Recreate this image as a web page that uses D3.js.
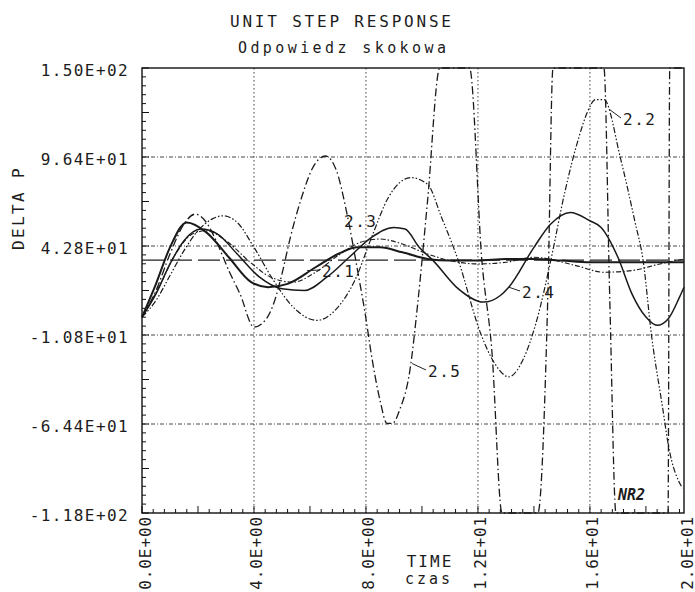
<!DOCTYPE html>
<html>
<head>
<meta charset="utf-8">
<script src="https://cdn.jsdelivr.net/npm/d3@7"></script>
<style>
body { margin: 0; background: #fff; }
text { font-family: "DejaVu Sans Mono", monospace; fill: #1c1c1c; }
</style>
</head>
<body>
<svg width="695" height="592"></svg>
<script>
// unit step response, values as [time, delta P]
// (parts that ran off the sheet are kept at the frame value, like the plotter drew them)
var curve21 = [[0,0],[0.5,20],[1.0,42],[1.6,57],[2.3,51],[3.1,36],[3.9,21],[4.5,18],[5.2,20],[6.2,30],
  [7.0,38],[7.7,42],[8.5,42],[9.3,39],[10.2,35],[11.0,34],[12,34],[13,35],[14,35],[15,34],[16,33],[17,33],[18,33],[19.36,33]];
var curve22 = [[0,0],[0.5,10],[1.0,25],[1.5,40],[2.0,52],[2.5,59],[2.9,61],[3.4,57],[4.0,42],[4.7,22],[5.4,6],
  [6.25,-2],[7.0,6],[7.6,22],[8.2,48],[8.8,72],[9.6,84],[10.2,80],[10.7,60],[11.3,34],[12.1,-10],[12.6,-28],
  [13.1,-36],[13.6,-26],[14.1,-2],[14.6,34],[15.1,75],[15.6,108],[15.9,123],[16.2,131],[16.5,131],[17.1,95],
  [17.6,58],[17.9,34],[18.2,-11],[18.6,-55],[18.8,-77],[19.3,-103]];
var curve23 = [[0,0],[0.6,18],[1.2,38],[1.8,50],[2.3,52],[3.0,46],[3.8,34],[4.6,24],[5.4,21],[6.2,27],[7.0,37],
  [7.8,45],[8.5,47],[9.3,44],[10.2,38],[11.0,34],[12.0,32],[13.0,33],[14.0,36],[15.5,31],[16.5,27],[17.5,28],[18.5,32],[19.36,35]];
var curve24 = [[0,0],[0.5,14],[1.0,32],[1.5,46],[2.1,53],[2.7,50],[3.4,38],[4.2,24],[5.0,17],[5.8,16],[6.6,24],
  [7.4,36],[8.2,48],[9.0,54],[9.4,53],[9.9,42],[10.4,34],[11.3,17],[12.2,9],[12.8,13],[13.1,18],[14.0,42],
  [14.6,56],[15.3,63],[16.0,58],[16.4,54],[17.0,36],[17.5,14],[18.0,0],[18.4,-5],[18.8,-1],[19.2,12],[19.36,18]];
var curve25 = [[0,0],[0.5,16],[1.0,38],[1.5,56],[1.9,62],[2.3,57],[2.7,44],[3.1,28],[3.5,14],[4.0,-6],[4.4,-2],
  [4.7,8],[5.0,26],[5.3,48],[5.7,72],[6.07,89],[6.55,97],[6.95,88],[7.3,64],[7.7,28],[8.0,-1],[8.15,-18],[8.5,-50],
  [8.75,-64],[8.95,-64],[9.2,-56],[9.57,-32],[9.86,10],[10.2,70],[10.64,150],[11.7,150],[12.14,34],[12.5,-21],
  [12.86,-118],[14.14,-118],[14.5,15],[14.68,150],[16.5,150],[16.71,10],[16.93,-118],[18.79,-118],[18.85,150],[19.36,150]];
var steadyState = 34.3;

var curveNames = ["2.1", "2.2", "2.3", "2.4", "2.5"];
var yTicks = [150, 96.4, 42.8, -10.8, -64.4, -118];
var yTickLabels = ["1.50E+02", "9.64E+01", "4.28E+01", "-1.08E+01", "-6.44E+01", "-1.18E+02"];
var xTicks = [0, 4, 8, 12, 16];
var xTickLabels = ["0.0E+00", "4.0E+00", "8.0E+00", "1.2E+01", "1.6E+01", "2.0E+01"];
var tEnd = 19.36;   // the frame stops a bit short of 20 on the sheet

var svg = d3.select("svg");
svg.append("rect").attr("width", 695).attr("height", 592).attr("fill", "#fff");

var x = d3.scaleLinear().domain([0, tEnd]).range([142, 684]);
var y = d3.scaleLinear().domain([-118, 150]).range([513, 68]).clamp(true);

// titles
svg.append("text").attr("x", 230).attr("y", 27).attr("font-size", 16)
  .attr("letter-spacing", 2.8).text("UNIT STEP RESPONSE");
svg.append("text").attr("x", 238).attr("y", 53).attr("font-size", 15)
  .attr("letter-spacing", 3.4).text("Odpowiedz skokowa");

// grid
var grid = svg.append("g").attr("stroke", "#333").attr("stroke-width", 0.9)
  .attr("stroke-dasharray", "4,2,1,2").attr("fill", "none");
grid.selectAll("line.h").data(yTicks.slice(1, -1)).enter().append("line")
  .attr("x1", x(0)).attr("x2", x(tEnd))
  .attr("y1", function(d) { return y(d); }).attr("y2", function(d) { return y(d); });
grid.selectAll("line.v").data(xTicks.slice(1)).enter().append("line")
  .attr("x1", function(d) { return x(d); }).attr("x2", function(d) { return x(d); })
  .attr("y1", y(150)).attr("y2", y(-118))
  .attr("stroke-dasharray", "1.5,2.5");

// frame and inner ticks
svg.append("rect").attr("x", x(0)).attr("y", y(150))
  .attr("width", x(tEnd) - x(0)).attr("height", y(-118) - y(150))
  .attr("fill", "none").attr("stroke", "#111").attr("stroke-width", 1.4);

var yMinor = d3.range(0, 51).map(function(i) { return -118 + i * 5.36; });
svg.append("g").selectAll("line").data(yMinor).enter().append("line")
  .attr("x1", x(0)).attr("x2", function(d, i) { return x(0) + (i % 5 == 0 ? 7 : 4); })
  .attr("y1", function(d) { return y(d); }).attr("y2", function(d) { return y(d); })
  .attr("stroke", "#111").attr("stroke-width", 1);
var xMinor = d3.range(0, 49).map(function(i) { return i * 0.4; });
svg.append("g").selectAll("line").data(xMinor).enter().append("line")
  .attr("x1", function(d) { return x(d); }).attr("x2", function(d) { return x(d); })
  .attr("y1", y(-118)).attr("y2", function(d, i) { return y(-118) - (i % 5 == 0 ? 7 : 4); })
  .attr("stroke", "#111").attr("stroke-width", 1);

// tick labels
svg.append("g").selectAll("text").data(yTicks).enter().append("text")
  .attr("x", 129).attr("y", function(d) { return y(d) + 3; })
  .attr("text-anchor", "end").attr("dominant-baseline", "middle")
  .attr("font-size", 16).attr("letter-spacing", 1.4)
  .text(function(d, i) { return yTickLabels[i]; });

var xLabelPos = xTicks.concat([tEnd]);
svg.append("g").selectAll("text").data(xLabelPos).enter().append("text")
  .attr("transform", function(d) { return "translate(" + (x(d) + 4) + ",516) rotate(-90)"; })
  .attr("text-anchor", "end").attr("dominant-baseline", "middle")
  .attr("font-size", 16).attr("letter-spacing", 0.9)
  .text(function(d, i) { return xTickLabels[i]; });

// axis titles
svg.append("text").attr("transform", "translate(19,208) rotate(-90)")
  .attr("text-anchor", "middle").attr("dominant-baseline", "middle")
  .attr("font-size", 16).attr("letter-spacing", 2.4).text("DELTA P");
svg.append("text").attr("x", 430).attr("y", 567).attr("text-anchor", "middle")
  .attr("font-size", 16).attr("letter-spacing", 2).text("TIME");
svg.append("text").attr("x", 429).attr("y", 584).attr("text-anchor", "middle")
  .attr("font-size", 15).attr("letter-spacing", 3).text("czas");

// curves
var line = d3.line()
  .x(function(d) { return x(d[0]); })
  .y(function(d) { return y(d[1]); })
  .curve(d3.curveMonotoneX);

var series = [
  { data: curve21, dash: null, w: 2.0 },
  { data: curve22, dash: "6,2,1.5,2,1.5,2", w: 1.2 },
  { data: curve23, dash: "5,2,1.5,2", w: 1.1 },
  { data: curve24, dash: null, w: 1.5 },
  { data: curve25, dash: "8,3,1.5,3", w: 1.3 }
];

svg.append("line")
  .attr("x1", x(0)).attr("x2", x(tEnd))
  .attr("y1", y(steadyState)).attr("y2", y(steadyState))
  .attr("stroke", "#222").attr("stroke-width", 1.3).attr("stroke-dasharray", "22,6");

svg.append("g").selectAll("path").data(series).enter().append("path")
  .attr("d", function(d) { return line(d.data); })
  .attr("fill", "none").attr("stroke", "#1a1a1a")
  .attr("stroke-width", function(d) { return d.w; })
  .attr("stroke-dasharray", function(d) { return d.dash; })
  .attr("stroke-linejoin", "round");

// curve labels with their little leaders
var labelSpots = [
  { name: curveNames[0], t: 5.9, v: 28, lx: 322, ly: 277 },
  { name: curveNames[1], t: 16.7, v: 125, lx: 623, ly: 125 },
  { name: curveNames[2], t: 7.4, v: 41, lx: 344, ly: 227 },
  { name: curveNames[3], t: 13.1, v: 18, lx: 522, ly: 298 },
  { name: curveNames[4], t: 9.65, v: -28, lx: 428, ly: 377 }
];
var lab = svg.append("g");
lab.selectAll("line").data(labelSpots.filter(function(d) { return d.name != "2.3"; })).enter().append("line")
  .attr("x1", function(d) { return x(d.t); }).attr("y1", function(d) { return y(d.v); })
  .attr("x2", function(d) { return d.lx - 2; }).attr("y2", function(d) { return d.ly - 7; })
  .attr("stroke", "#222").attr("stroke-width", 1);
lab.selectAll("text").data(labelSpots).enter().append("text")
  .attr("x", function(d) { return d.lx; }).attr("y", function(d) { return d.ly; })
  .attr("font-size", 16).attr("letter-spacing", 1.5)
  .text(function(d) { return d.name; });

svg.append("text").attr("x", 618).attr("y", 500)
  .attr("font-family", "DejaVu Sans").attr("font-style", "italic").attr("font-weight", "bold")
  .attr("font-size", 15).text("NR2");
</script>
</body>
</html>
